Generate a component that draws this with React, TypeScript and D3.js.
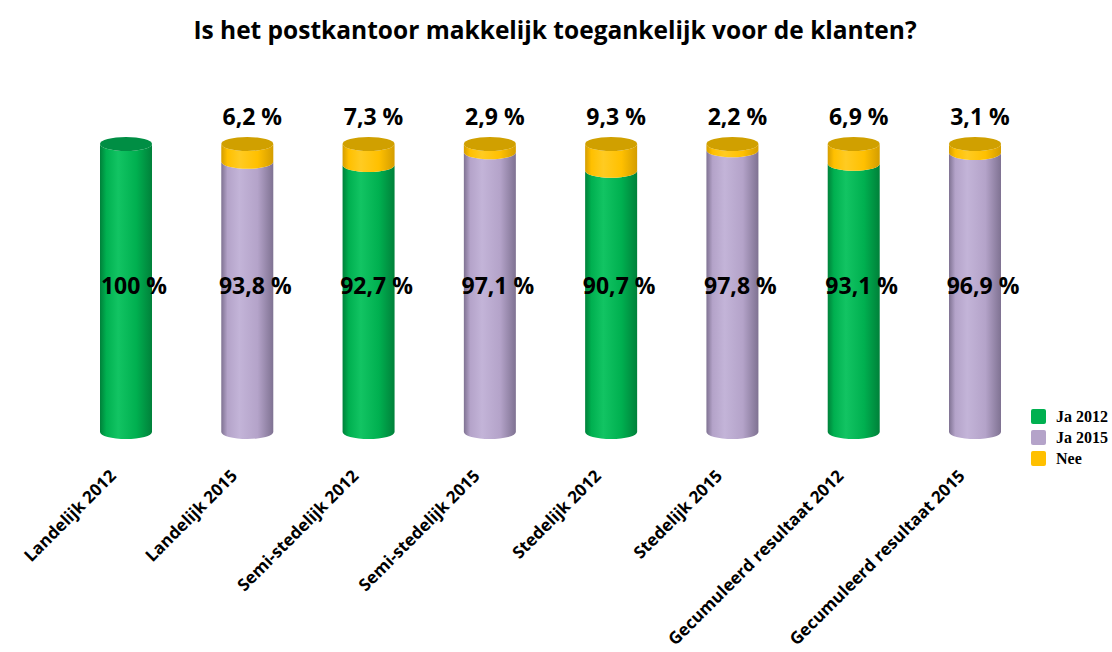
import React, { useEffect } from "react";
import * as d3 from "d3";

const categories = [
  "Landelijk 2012",
  "Landelijk 2015",
  "Semi-stedelijk 2012",
  "Semi-stedelijk 2015",
  "Stedelijk 2012",
  "Stedelijk 2015",
  "Gecumuleerd resultaat 2012",
  "Gecumuleerd resultaat 2015",
];
const ja2012: (number | null)[] = [100, null, 92.7, null, 90.7, null, 93.1, null];
const ja2015: (number | null)[] = [null, 93.8, null, 97.1, null, 97.8, null, 96.9];
const nee: number[] = [0, 6.2, 7.3, 2.9, 9.3, 2.2, 6.9, 3.1];
const legendLabels = ["Ja 2012", "Ja 2015", "Nee"];
const title = "Is het postkantoor makkelijk toegankelijk voor de klanten?";

const W = 1112;
const H = 652;
const FONT = "'Open Sans', Lato, sans-serif";

const palette = {
  g: { base: "#00b050", dark: "#00813a", light: "#12c463", top: "#008e44" },
  p: { base: "#b4a3c9", dark: "#7f7292", light: "#c3b4d8", top: "#9d8db3" },
  y: { base: "#ffc000", dark: "#d49d00", light: "#ffcb22", top: "#d0a000" },
};

const fmt = (v: number) => (v === 100 ? "100 %" : d3.format(".1f")(v).replace(".", ",") + " %");

export default function App() {
  useEffect(() => {
    document.body.style.margin = "0";
  }, []);

  const x = d3.scalePoint<string>().domain(categories).range([126, 975]);
  const y = d3.scaleLinear().domain([0, 100]).range([432, 144]);
  const rx = 26;
  const ry = 7;

  const body = (cx: number, yt: number, yb: number) =>
    `M${cx - rx},${yt} L${cx - rx},${yb} A${rx},${ry} 0 0 0 ${cx + rx},${yb} L${cx + rx},${yt} A${rx},${ry} 0 0 1 ${cx - rx},${yt} Z`;

  const grad = (id: string, c: { base: string; dark: string; light: string }) => (
    <linearGradient id={id} x1="0" x2="1" y1="0" y2="0">
      <stop offset="0" stopColor={c.dark} />
      <stop offset="0.12" stopColor={c.base} />
      <stop offset="0.35" stopColor={c.light} />
      <stop offset="0.7" stopColor={c.base} />
      <stop offset="1" stopColor={c.dark} />
    </linearGradient>
  );

  return (
    <svg width={W} height={H} style={{ display: "block", background: "#fff" }}>
      <defs>
        {grad("gg", palette.g)}
        {grad("gp", palette.p)}
        {grad("gy", palette.y)}
      </defs>
      <text x={555} y={39} textAnchor="middle" fontFamily={FONT} fontWeight="bold" fontSize={24.5}>
        {title}
      </text>
      {categories.map((c, i) => {
        const cx = x(c)!;
        const ja = ja2012[i] ?? ja2015[i] ?? 0;
        const isG = ja2012[i] != null;
        const n = nee[i];
        const yJaTop = y(ja);
        const yTop = y(ja + n);
        return (
          <g key={c}>
            <path d={body(cx, yJaTop, y(0))} fill={isG ? "url(#gg)" : "url(#gp)"} />
            {n > 0 && <path d={body(cx, yTop, yJaTop)} fill="url(#gy)" />}
            <ellipse
              cx={cx}
              cy={yTop}
              rx={rx}
              ry={ry}
              fill={n > 0 ? palette.y.top : isG ? palette.g.top : palette.p.top}
            />
            <text
              x={cx + 8}
              y={y(50) + 6}
              textAnchor="middle"
              fontFamily={FONT}
              fontWeight="bold"
              fontSize={23}
            >
              {fmt(ja)}
            </text>
            {n > 0 && (
              <text
                x={cx + 5}
                y={y(100) - 19}
                textAnchor="middle"
                fontFamily={FONT}
                fontWeight="bold"
                fontSize={23}
              >
                {fmt(n)}
              </text>
            )}
            <text
              transform={`translate(${cx - 9},${477}) rotate(-45)`}
              textAnchor="end"
              fontFamily={FONT}
              fontWeight="bold"
              fontSize={17}
            >
              {c}
            </text>
          </g>
        );
      })}
      <g>
        {legendLabels.map((l, i) => (
          <g key={l} transform={`translate(1031,${409 + i * 21})`}>
            <rect width={15} height={15} rx={2} fill={[palette.g.base, palette.p.base, palette.y.base][i]} />
            <text
              x={25}
              y={13}
              fontFamily="'Liberation Serif', 'DejaVu Serif', serif"
              fontWeight="bold"
              fontSize={16}
            >
              {l}
            </text>
          </g>
        ))}
      </g>
    </svg>
  );
}
